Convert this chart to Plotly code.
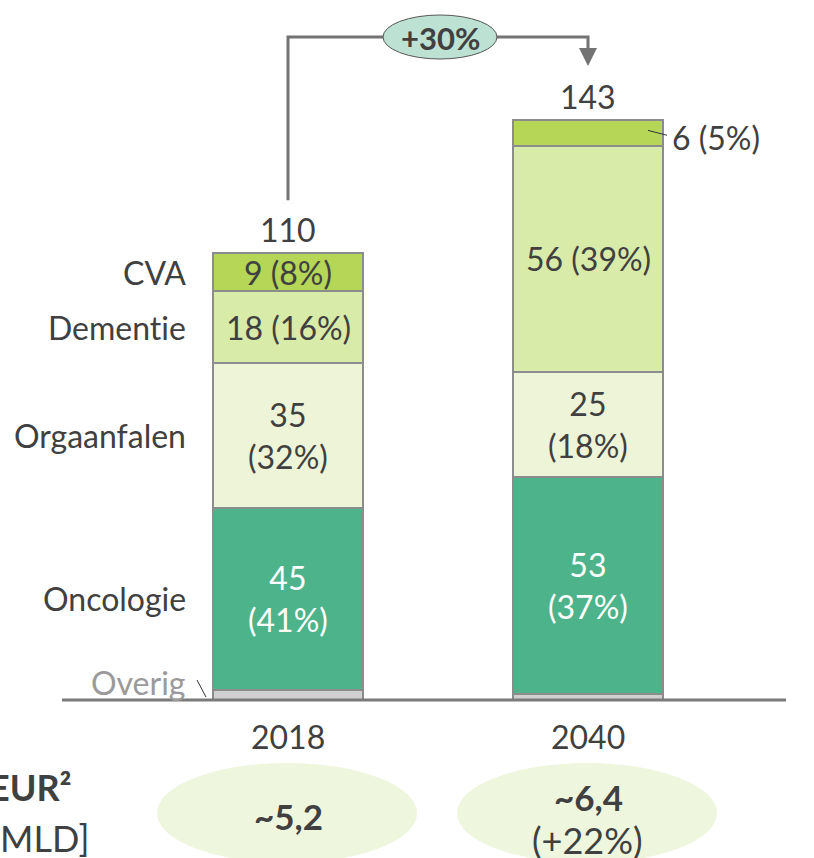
import plotly.graph_objects as go

# ---- data (segment heights) ----
years = ["2018", "2040"]
overig = [2.5, 1.5]
oncologie = [44.8, 53.4]
orgaanfalen = [35.7, 25.9]
dementie = [17.7, 55.7]
cva = [9.4, 6.4]
# ---- printed labels ----
lbl_oncologie = ["45", "53"]
lbl_orgaanfalen = ["35", "25"]
lbl_dementie = ["18", "56"]
lbl_cva = ["9", "6"]
pct_oncologie = ["41%", "37%"]
pct_orgaanfalen = ["32%", "18%"]
pct_dementie = ["16%", "39%"]
pct_cva = ["8%", "5%"]
totals = [110, 143]
growth_label = "+30%"
cost_values = ["~5,2", "~6,4"]
cost_growth = ["", "(+22%)"]

FONT = "Lato, 'Open Sans', sans-serif"
TXT = "#404040"
FS = 32
W, H = 814, 858
# pixel <-> data mapping helpers (figure uses full canvas)
PX_PER_X = 300.0
X0PX = 288.0
PX_PER_Y = 4.06
Y0PX = 700.0


def X(px):
    return (px - X0PX) / PX_PER_X


def Y(py):
    return (Y0PX - py) / PX_PER_Y


xs = [0, 1]
series = [
    ("Overig", overig, "#d0d0d0"),
    ("Oncologie", oncologie, "#4db38a"),
    ("Orgaanfalen", orgaanfalen, "#eef4d8"),
    ("Dement\u200cie", dementie, "#d9eba9"),
    ("CVA", cva, "#b5d656"),
]

fig = go.Figure()
for name, vals, col in series:
    fig.add_trace(go.Bar(
        x=xs, y=vals, name=name, width=0.5,
        marker=dict(color=col, line=dict(color="#8c8c8c", width=1.5)),
        hoverinfo="skip", showlegend=False,
    ))

ann = []
shapes = []


def font(size=FS, color=TXT):
    return dict(color=color, size=size, family=FONT)


def bases(i):
    b = [0]
    for _, vals, _ in series:
        b.append(b[-1] + vals[i])
    return b


for i in range(2):
    b = bases(i)
    mid = (b[1] + b[2]) / 2
    ann.append(dict(x=xs[i], y=mid, text=f"{lbl_oncologie[i]}<br>({pct_oncologie[i]})",
                    font=font(color="white"), showarrow=False))
    mid = (b[2] + b[3]) / 2
    ann.append(dict(x=xs[i], y=mid, text=f"{lbl_orgaanfalen[i]}<br>({pct_orgaanfalen[i]})",
                    font=font(), showarrow=False))
    mid = (b[3] + b[4]) / 2
    ann.append(dict(x=xs[i], y=mid, text=f"{lbl_dementie[i]} ({pct_dementie[i]})",
                    font=font(), showarrow=False))
    mid = (b[4] + b[5]) / 2
    if i == 0:
        ann.append(dict(x=xs[i], y=mid, text=f"{lbl_cva[i]} ({pct_cva[i]})",
                        font=font(), showarrow=False))
    else:
        ann.append(dict(x=X(670), y=mid - 1.2, text=f"{lbl_cva[i]} ({pct_cva[i]})", xanchor="left",
                        font=font(), showarrow=False))
        shapes.append(dict(type="line", x0=X(648), x1=X(667), y0=mid + 0.6, y1=mid - 0.6,
                           line=dict(color="#333333", width=1)))
    ann.append(dict(x=xs[i], y=b[-1], yshift=23, text=str(totals[i]),
                    font=font(), showarrow=False))
    ann.append(dict(x=xs[i], y=Y(736), text=years[i], font=font(), showarrow=False))

# left category labels (2018 bar)
b = bases(0)
for k, (name, vals, col) in enumerate(series):
    if name == "Overig":
        continue
    mid = (b[k] + b[k + 1]) / 2
    ann.append(dict(x=X(188), y=mid, text=name, xanchor="right",
                    font=font(), showarrow=False))
ann.append(dict(x=X(187), y=Y(682), text="Overig", xanchor="right",
                font=font(color="#9a9a9a"), showarrow=False))
shapes.append(dict(type="line", x0=X(197), x1=X(206), y0=Y(680), y1=Y(697),
                   line=dict(color="#333333", width=1)))

# baseline
shapes.append(dict(type="line", x0=X(62), x1=X(786), y0=0, y1=0,
                   line=dict(color="#7a7a7a", width=3), layer="above"))

# growth bracket
ytop = Y(37)
b0 = bases(0)[-1]
shapes.append(dict(type="path",
                   path=f"M {xs[0]},{b0 + 13} L {xs[0]},{ytop} L {xs[1]},{ytop} L {xs[1]},{Y(52)}",
                   line=dict(color="#737373", width=3)))
ann.append(dict(x=xs[1], y=Y(66), ax=xs[1], ay=Y(50), axref="x", ayref="y",
                showarrow=True, arrowhead=2, arrowsize=1.2, arrowwidth=3, arrowcolor="#737373", text=""))
shapes.append(dict(type="circle", x0=X(383), x1=X(497), y0=Y(59), y1=Y(15),
                   fillcolor="#bde2d3", line=dict(color="#555555", width=1), layer="above"))
ann.append(dict(x=X(440), y=Y(38), text=f"<b>{growth_label}</b>",
                font=font(31), showarrow=False))

# bottom cost ellipses
for cx in [287, 587]:
    shapes.append(dict(type="circle", x0=X(cx - 130), x1=X(cx + 130), y0=Y(863), y1=Y(763),
                       fillcolor="#eff6de", line=dict(width=0), layer="above"))
ann.append(dict(x=X(288), y=Y(816), text=f"<b>{cost_values[0]}</b>",
                font=font(35), showarrow=False))
ann.append(dict(x=X(588), y=Y(797), text=f"<b>{cost_values[1]}</b>",
                font=font(35), showarrow=False))
ann.append(dict(x=X(587), y=Y(840), yanchor="middle", text=cost_growth[1],
                font=font(36), showarrow=False))
ann.append(dict(x=X(74), y=Y(787), text="<b>EUR\u00b2</b>", xanchor="right",
                font=font(36), showarrow=False))
ann.append(dict(x=X(91), y=Y(838), text="[MLD]", xanchor="right",
                font=font(36), showarrow=False))

fig.update_layout(
    width=W, height=H, autosize=False,
    margin=dict(l=0, r=0, t=0, b=0),
    paper_bgcolor="white", plot_bgcolor="white",
    barmode="stack",
    xaxis=dict(range=[X(0), X(W)], visible=False, fixedrange=True),
    yaxis=dict(range=[Y(H), Y(0)], visible=False, fixedrange=True),
    annotations=ann, shapes=shapes,
)
fig.write_html("out.html", config={"displayModeBar": False},
               post_script="document.body.style.margin='0';document.body.style.overflow='hidden';")
